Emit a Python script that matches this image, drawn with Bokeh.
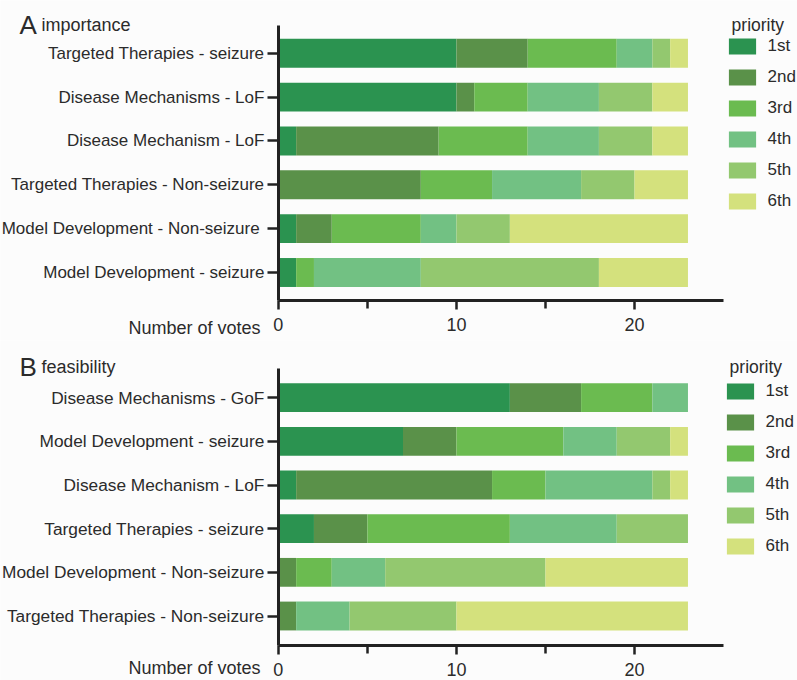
from bokeh.plotting import figure
from bokeh.models import ColumnDataSource, Range1d, FixedTicker, Legend, LegendItem, Label
from bokeh.layouts import column
from bokeh.embed import file_html
from bokeh.resources import INLINE

priorities = ["1st", "2nd", "3rd", "4th", "5th", "6th"]
colors = ["#2b9350", "#5a9149", "#6bbb50", "#72c183", "#93c86f", "#d4e17d"]

x_ticks = [0, 10, 20]
x_minor_ticks = [5, 15]
x_max = 25

# Panel A: importance (top to bottom)
imp_categories = [
    "Targeted Therapies - seizure",
    "Disease Mechanisms - LoF",
    "Disease Mechanism - LoF",
    "Targeted Therapies - Non-seizure",
    "Model Development - Non-seizure ",
    "Model Development - seizure",
]
imp_1st = [10, 10, 1, 0, 1, 1]
imp_2nd = [4, 1, 8, 8, 2, 0]
imp_3rd = [5, 3, 5, 4, 5, 1]
imp_4th = [2, 4, 4, 5, 2, 6]
imp_5th = [1, 3, 3, 3, 3, 10]
imp_6th = [1, 2, 2, 3, 10, 5]

# Panel B: feasibility (top to bottom)
feas_categories = [
    "Disease Mechanisms - GoF",
    "Model Development - seizure",
    "Disease Mechanism - LoF",
    "Targeted Therapies - seizure",
    "Model Development - Non-seizure",
    "Targeted Therapies - Non-seizure",
]
feas_1st = [13, 7, 1, 2, 0, 0]
feas_2nd = [4, 3, 11, 3, 1, 1]
feas_3rd = [4, 6, 3, 8, 2, 0]
feas_4th = [2, 3, 6, 6, 3, 3]
feas_5th = [0, 3, 1, 4, 9, 6]
feas_6th = [0, 1, 1, 0, 8, 13]

FONT = "Liberation Sans"
TXT = "#2b2b2b"
AX = "#222222"
BG = "#fcfcfc"
W, H = 797, 340


def make_panel(letter, title, cats, series, y_lo, y_hi, axis_y, axis_top,
               title_y, legend_loc, label_size):
    n = len(cats)
    pos = [n - 1 - i for i in range(n)]
    data = {"cat": cats, "pos": pos}
    for name, vals in zip(priorities, series):
        data[name] = vals
    src = ColumnDataSource(data)

    p = figure(
        width=W, height=H,
        x_range=Range1d(-15.6, 29.15),
        y_range=Range1d(y_lo, y_hi),
        output_backend="svg", toolbar_location=None,
        min_border=0, min_border_left=0, min_border_right=0,
        min_border_top=0, min_border_bottom=0,
        background_fill_color=BG, border_fill_color=BG,
        outline_line_color=None,
    )
    p.xgrid.visible = False
    p.ygrid.visible = False

    rs = p.hbar_stack(priorities, y="pos", height=0.66, fill_color=colors,
                      line_color=None, source=src)

    xa = p.xaxis[0]
    ya = p.yaxis[0]
    for ax in (xa, ya):
        ax.axis_line_width = 3
        ax.axis_line_color = AX
        ax.major_tick_line_width = 2.5
        ax.major_tick_line_color = AX
        ax.major_tick_in = 0
        ax.major_label_text_font = FONT
        ax.major_label_text_color = TXT
    xa.fixed_location = axis_y
    xa.bounds = (0, x_max)
    xa.ticker = FixedTicker(ticks=x_ticks, minor_ticks=x_minor_ticks)
    xa.major_tick_out = 9
    xa.minor_tick_out = 8
    xa.minor_tick_in = 0
    xa.minor_tick_line_width = 2.5
    xa.minor_tick_line_color = AX
    xa.major_label_text_font_size = "18px"
    xa.major_label_standoff = 8

    ya.fixed_location = 0
    ya.bounds = (axis_y, axis_top)
    ya.ticker = FixedTicker(ticks=pos, minor_ticks=[])
    ya.major_label_overrides = {pv: c for pv, c in zip(pos, cats)}
    ya.major_tick_out = 11
    ya.major_label_standoff = 3
    ya.major_label_text_font_size = label_size

    # legend
    items = [LegendItem(label=name, renderers=[r]) for name, r in zip(priorities, rs)]
    legend = Legend(
        items=items, location=legend_loc,
        glyph_width=34, glyph_height=20, label_height=20, label_width=20,
        spacing=11, padding=0, margin=0, label_standoff=9,
        border_line_color=None, background_fill_alpha=0,
        label_text_font=FONT, label_text_font_size="17px", label_text_color=TXT,
    )
    p.add_layout(legend)
    p.add_layout(Label(x=legend_loc[0] + 6.5, y=title_y, x_units="screen", y_units="screen",
                       text="priority", text_font=FONT, text_font_size="17.5px",
                       text_color=TXT, text_baseline="alphabetic", text_align="left"))

    # panel headings and axis caption
    p.add_layout(Label(x=19, y=title_y, x_units="screen", y_units="screen", text=letter,
                       text_font=FONT, text_font_size="26px", text_color=TXT,
                       text_baseline="alphabetic", text_align="left"))
    p.add_layout(Label(x=41, y=title_y, x_units="screen", y_units="screen",
                       text=title, text_font=FONT, text_font_size="18px", text_color=TXT,
                       text_baseline="alphabetic", text_align="left"))
    p.add_layout(Label(x=260, y=12.5, x_units="screen", y_units="screen", text="Number of votes",
                       text_font=FONT, text_font_size="18px", text_color=TXT,
                       text_baseline="alphabetic", text_align="right"))
    return p


pa = make_panel("A", "importance", imp_categories,
                [imp_1st, imp_2nd, imp_3rd, imp_4th, imp_5th, imp_6th],
                -1.5507, 6.2030, -0.6385, 5.633, 316, (724.6, 129), "17px")
pb = make_panel("B", "feasibility", feas_categories,
                [feas_1st, feas_2nd, feas_3rd, feas_4th, feas_5th, feas_6th],
                -1.477, 6.310, -0.676, 5.669, 313.3, (722.6, 124.5), "17.3px")

layout = column(pa, pb, spacing=0)
open("out.html", "w").write(file_html(layout, INLINE))
